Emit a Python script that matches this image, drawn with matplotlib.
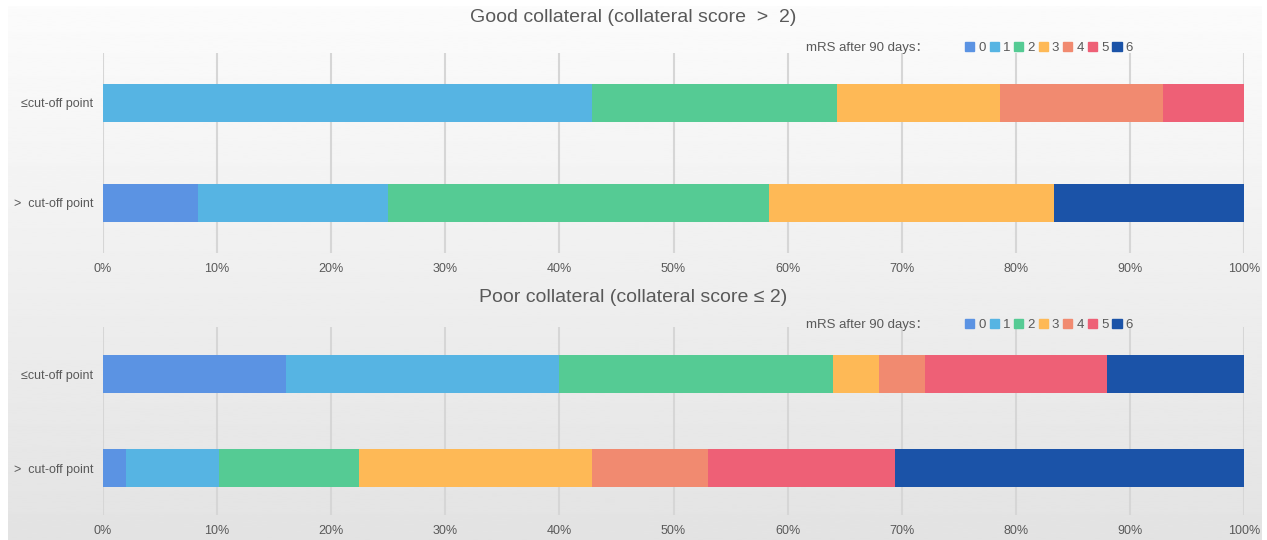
import numpy as np
import matplotlib
matplotlib.use('Agg')
import matplotlib.pyplot as plt
from matplotlib.patches import Patch

plt.rcParams['font.family'] = ['Liberation Sans', 'Noto Sans CJK SC', 'DejaVu Sans']

# mRS after 90 days, share of patients (%) per group
mrs_levels = ['0', '1', '2', '3', '4', '5', '6']
mrs_colors = ['#5B93E3', '#56B4E3', '#55CB94', '#FEB956', '#F18A70', '#EE6076', '#1B53A8']
row_labels = ['>  cut-off point', '\u2264cut-off point']

good_gt = [8.33, 16.67, 33.33, 25.0, 0, 0, 16.67]
good_le = [0, 42.86, 21.43, 14.29, 14.29, 7.14, 0]
poor_gt = [2.04, 8.16, 12.24, 20.41, 10.20, 16.33, 30.61]
poor_le = [16, 24, 24, 4, 4, 16, 12]

panels = [
    ('Good collateral (collateral score  >  2)', good_gt, good_le),
    ('Poor collateral (collateral score \u2264 2)', poor_gt, poor_le),
]

W, H = 1267, 540
fig = plt.figure(figsize=(W / 100, H / 100), dpi=100)
fig.patch.set_facecolor('white')

# gray gradient background panel
bg = fig.add_axes([8 / W, 0, 1254 / W, 534 / H], zorder=-10)
grad = np.linspace(0.985, 0.89, 256).reshape(-1, 1)
bg.imshow(grad, aspect='auto', cmap='gray', vmin=0, vmax=1, extent=[0, 1, 0, 1])
bg.set_axis_off()

gray_txt = '#595959'
ax_left = 103 / W
ax_w = 1141 / W
# (top px, bottom px, title y px, legend y px, bar height)
layout = [(53, 253, 18, 48, 0.38), (327, 515, 297, 325, 0.40)]

for (title, gt, le), (top, bot, ty, ly, bh) in zip(panels, layout):
    ax = fig.add_axes([ax_left, 1 - bot / H, ax_w, (bot - top) / H])
    ax.set_facecolor('none')
    left = np.zeros(2)
    for i, lvl in enumerate(mrs_levels):
        vals = np.array([gt[i], le[i]])
        ax.barh([0, 1], vals, left=left, height=bh, color=mrs_colors[i],
                label=lvl, zorder=3)
        left += vals
    ax.set_xlim(0, 100)
    ax.set_ylim(-0.5, 1.5)
    ax.set_xticks(np.arange(0, 101, 10))
    ax.set_xticklabels([f'{t}%' for t in range(0, 101, 10)])
    ax.set_yticks([0, 1])
    ax.set_yticklabels(row_labels)
    ax.tick_params(length=0, labelsize=9, colors=gray_txt)
    ax.tick_params(axis='x', pad=7)
    ax.tick_params(axis='y', pad=7)
    ax.grid(axis='x', color='#D6D6D6', linewidth=1.5, zorder=0)
    ax.set_axisbelow(True)
    for s in ax.spines.values():
        s.set_visible(False)

    fig.text(0.5, 1 - ty / H, title, ha='center', va='center',
             fontsize=14, color=gray_txt)
    fig.text(806 / W, 1 - ly / H, 'mRS after 90 days\uff1a', ha='left', va='center',
             fontsize=9.5, color=gray_txt)
    handles = [Patch(color=c) for c in mrs_colors]
    fig.legend(handles, mrs_levels, loc='center left', ncol=7,
               bbox_to_anchor=(965 / W, 1 - ly / H), frameon=False,
               fontsize=9.5, labelcolor=gray_txt, handlelength=0.7,
               handleheight=0.7, handletextpad=0.3, columnspacing=0.3,
               borderpad=0, borderaxespad=0)

fig.savefig('out.png', dpi=100)
